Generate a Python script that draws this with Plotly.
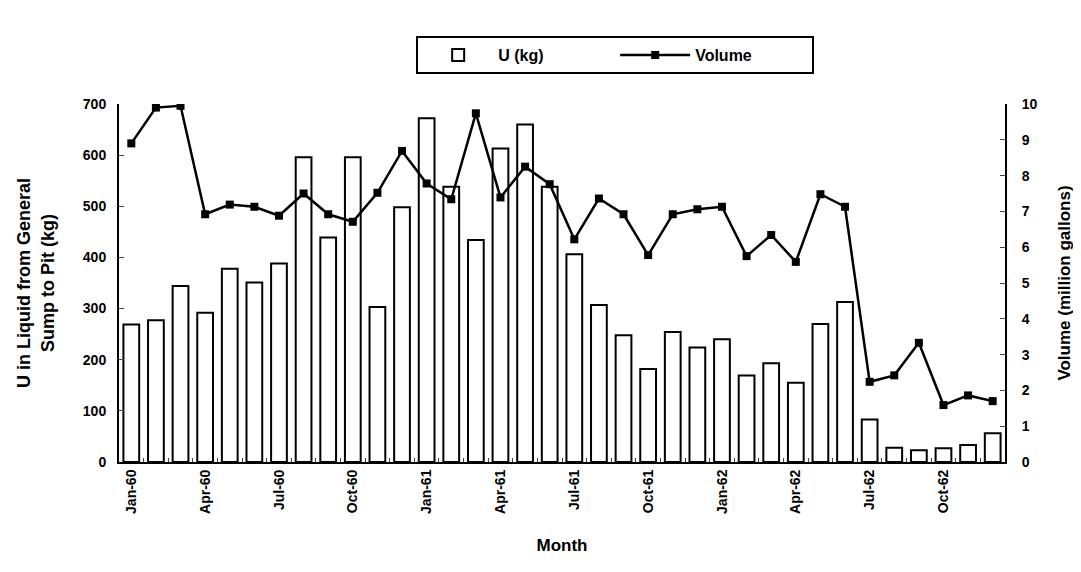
import plotly.graph_objects as go

months = ["Jan", "Feb", "Mar", "Apr", "May", "Jun", "Jul", "Aug", "Sep", "Oct", "Nov", "Dec"]
categories = [f"{m}-{y}" for y in ["60", "61", "62"] for m in months]

u_kg = [269, 277, 344, 292, 378, 351, 388, 596, 439, 596, 303, 498,
        672, 538, 434, 613, 660, 538, 406, 307, 248, 182, 254, 224,
        240, 169, 193, 155, 270, 313, 83, 28, 23, 27, 33, 56]

volume = [8.90, 9.90, 9.95, 6.92, 7.19, 7.13, 6.88, 7.50, 6.92, 6.71, 7.52, 8.69,
          7.78, 7.34, 9.74, 7.39, 8.25, 7.76, 6.22, 7.36, 6.92, 5.78, 6.92, 7.06,
          7.13, 5.75, 6.34, 5.59, 7.48, 7.13, 2.24, 2.42, 3.33, 1.59, 1.86, 1.70]

tick_text = [c if i % 3 == 0 else "" for i, c in enumerate(categories)]

font = dict(family="Liberation Sans, Arial, sans-serif", color="black", weight="bold")

fig = go.Figure()
fig.add_trace(go.Bar(x=categories, y=u_kg, name="U (kg)", width=0.64,
                     marker=dict(color="white", line=dict(color="black", width=2))))
fig.add_trace(go.Scatter(x=categories, y=volume, name="Volume", yaxis="y2", mode="lines+markers",
                         line=dict(color="black", width=2.5),
                         marker=dict(symbol="square", size=8, color="black")))

# page body adds an 8px offset, margins compensate for it
fig.update_layout(
    width=1081, height=572,
    margin=dict(l=111, r=84, t=96, b=118),
    plot_bgcolor="white", paper_bgcolor="white",
    font=dict(size=13, **font),
    showlegend=True,
    legend=dict(orientation="h", x=0.56, xanchor="center", y=1.19, yanchor="top",
                bordercolor="black", borderwidth=2, font=dict(size=16, **font),
                itemwidth=70, entrywidth=112, traceorder="normal"),
    xaxis=dict(type="category", tickmode="array", tickvals=categories, ticktext=tick_text,
               range=[-0.5, 35.5], tickangle=-90, tickson="boundaries", ticks="inside", ticklen=4,
               showline=True, linecolor="black", linewidth=2, showgrid=False, automargin=False,
               title=dict(text="Month", font=dict(size=17, **font), standoff=26),
               tickfont=dict(size=14, **font)),
    yaxis=dict(range=[0, 700], dtick=100, ticks="inside", ticklen=5, showline=True,
               linecolor="black", linewidth=2, showgrid=False, zeroline=False, automargin=False,
               ticklabelstandoff=8,
               title=dict(text="U in Liquid from General<br>Sump to Pit (kg)", font=dict(size=18, **font), standoff=24),
               tickfont=dict(size=14, **font)),
    yaxis2=dict(range=[0, 10], dtick=1, overlaying="y", side="right", ticks="inside", ticklen=5,
                showline=True, linecolor="black", linewidth=2, showgrid=False, zeroline=False, automargin=False,
                ticklabelstandoff=12,
                title=dict(text="Volume (million gallons)", font=dict(size=17, **font), standoff=22),
                tickfont=dict(size=14, **font)),
)

fig.write_html("out.html")
